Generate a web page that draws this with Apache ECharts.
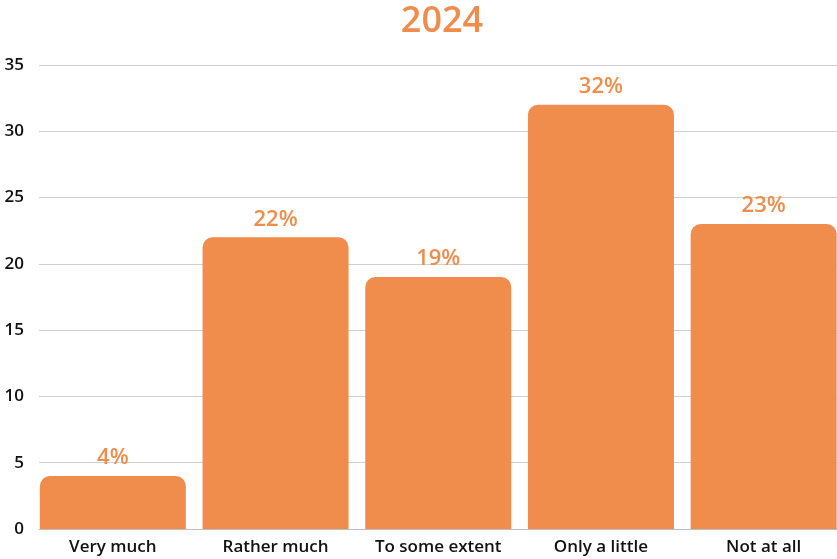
<!DOCTYPE html>
<html>
<head>
<meta charset="utf-8">
<script src="https://cdn.jsdelivr.net/npm/echarts@6/dist/echarts.min.js"></script>
<style>
  html, body { margin: 0; padding: 0; background: #fff; }
  #chart { width: 837px; height: 559px; }
</style>
</head>
<body>
<div id="chart"></div>
<script>
  const categories = ['Very much', 'Rather much', 'To some extent', 'Only a little', 'Not at all'];
  const values = [4, 22, 19, 32, 23];
  const yTicks = { min: 0, max: 35, interval: 5 };

  const orange = '#F08C4C';
  const font = '"Open Sans", Lato, sans-serif';

  const chart = echarts.init(document.getElementById('chart'));
  chart.setOption({
    animation: false,
    title: {
      text: '2024',
      left: 437,
      top: -1,
      textAlign: 'center',
      textStyle: { color: orange, fontSize: 36, fontWeight: 600, fontFamily: font }
    },
    // grid 0: gridlines + y labels, grid 1: bars (wider band, spills off the right edge)
    grid: [
      { left: 39, right: 0, top: 65, bottom: 30, outerBoundsMode: 'none' },
      { left: 31.5, width: 813.5, top: 65, bottom: 30, outerBoundsMode: 'none' }
    ],
    xAxis: [
      {
        gridIndex: 0, type: 'category', data: categories,
        axisLine: { show: true, lineStyle: { color: '#bdbdbd', width: 1 } },
        axisTick: { show: false }, axisLabel: { show: false }
      },
      {
        gridIndex: 1, type: 'category', data: categories,
        axisLine: { show: false }, axisTick: { show: false },
        axisLabel: { interval: 0, color: '#111', fontSize: 17, fontWeight: 600, fontFamily: font, margin: 10 }
      }
    ],
    yAxis: [
      {
        gridIndex: 0, type: 'value', min: yTicks.min, max: yTicks.max, interval: yTicks.interval,
        axisLine: { show: false }, axisTick: { show: false },
        axisLabel: { color: '#111', fontSize: 17, fontWeight: 600, fontFamily: font, margin: 15 },
        splitLine: { lineStyle: { color: '#d0d0d0', width: 1 } }
      },
      {
        gridIndex: 1, type: 'value', min: yTicks.min, max: yTicks.max, interval: yTicks.interval,
        show: false, splitLine: { show: false }
      }
    ],
    series: [{
      type: 'bar',
      xAxisIndex: 1, yAxisIndex: 1,
      data: values,
      barWidth: 146,
      itemStyle: { color: orange, borderRadius: [10, 10, 0, 0] },
      label: {
        show: true, position: 'top', distance: 7,
        formatter: '{c}%',
        color: orange, fontSize: 22, fontWeight: 600, fontFamily: font
      }
    }]
  });
</script>
</body>
</html>
